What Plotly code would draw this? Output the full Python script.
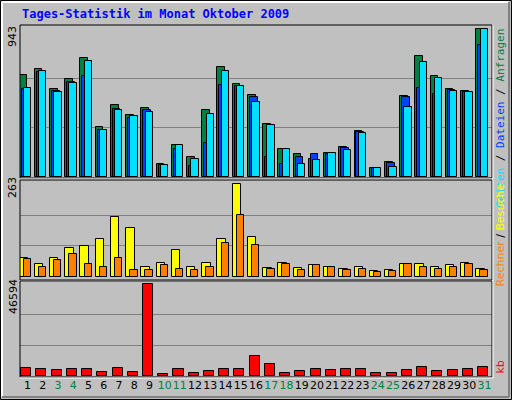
import plotly.graph_objects as go

days = list(range(1, 32))
hits = [649,687,559,623,757,316,457,393,437,79,201,124,425,700,591,521,335,175,143,111,149,188,290,53,92,514,770,642,559,548,943]
files = [559,670,546,604,644,297,431,373,425,73,175,66,213,584,578,508,124,79,124,143,143,181,284,53,85,508,565,527,553,540,841]
pages = [565,676,540,597,738,297,425,386,412,73,201,111,399,676,578,476,329,175,79,105,149,169,277,53,60,444,732,629,546,540,943]
visits = [52,35,52,81,86,106,169,138,29,38,75,27,38,106,263,112,24,38,24,32,29,21,27,15,18,35,35,27,32,38,21]
sites = [49,29,47,64,35,27,52,18,18,32,21,18,27,95,175,89,21,35,18,32,27,18,21,12,15,35,29,21,29,35,18]
kbytes = [3741,3231,2721,3231,3231,1700,3741,1700,46594,680,3231,1190,2211,3231,3231,9863,5782,1190,2211,3231,2721,3231,3231,1190,1190,2721,4251,2211,2721,3231,4251]
weekend = {3,4,10,11,17,18,24,25,31}

BG = "#C0C0C0"
L, R, T, B = 20, 20, 25, 23
W, H = 512, 400
def px(x): return (x - L) / (W - L - R)
def py(y): return (H - B - y) / (H - T - B)

fig = go.Figure()
def bar(y, color, off, wid, ax):
    fig.add_trace(go.Bar(x=days, y=y, marker=dict(color=color, line=dict(color="black", width=1)),
                         offset=off, width=wid, xaxis="x", yaxis=ax, showlegend=False, hoverinfo="skip"))
bar(hits, "#008040", -0.53, 0.5, "y")
bar(files, "#0040FF", -0.40, 0.5, "y")
bar(pages, "#00E0FF", -0.25, 0.48, "y")
bar(visits, "#FFFF00", -0.53, 0.55, "y2")
bar(sites, "#FF8000", -0.26, 0.48, "y2")
bar(kbytes, "#FF0000", -0.42, 0.66, "y3")

mh, mv, mk = max(hits), max(visits), max(kbytes)
ticktext = [f"<span style='color:#008040'>{d}</span>" if d in weekend else str(d) for d in days]
grid = dict(showgrid=True, gridcolor="#808080", gridwidth=1, showticklabels=False, zeroline=False, ticks="")
fig.update_layout(
    width=W, height=H, margin=dict(l=L, r=R, t=T, b=B), paper_bgcolor=BG, plot_bgcolor=BG,
    barmode="overlay", bargap=0,
    xaxis=dict(range=[0.5, 31.5], tickvals=days, ticktext=ticktext, showgrid=False, zeroline=False,
               anchor="y3", ticks="", tickangle=0, automargin=False,
               tickfont=dict(family="DejaVu Sans", size=11, color="black")),
    yaxis=dict(domain=[py(178), 1], range=[-8, 971], tickvals=[mh/3, 2*mh/3], **grid),
    yaxis2=dict(domain=[py(280), py(180)], range=[-9.4, 275], tickvals=[mv/3, 2*mv/3], **grid),
    yaxis3=dict(domain=[0, py(281)], range=[-663, 48280], tickvals=[mk/3, 2*mk/3], **grid),
)

shapes = []
shapes.append(dict(type="rect", xref="paper", yref="paper", x0=px(0.5), x1=px(511.5), y0=py(399.5), y1=py(0.5),
                   line=dict(color="black", width=1)))
shapes.append(dict(type="line", xref="paper", yref="paper", x0=px(2), x1=px(509), y0=py(2), y1=py(2), line=dict(color="white", width=2)))
shapes.append(dict(type="line", xref="paper", yref="paper", x0=px(2), x1=px(2), y0=py(2), y1=py(397), line=dict(color="white", width=2)))
shapes.append(dict(type="line", xref="paper", yref="paper", x0=px(509), x1=px(509), y0=py(2), y1=py(397), line=dict(color="#808080", width=2)))
shapes.append(dict(type="line", xref="paper", yref="paper", x0=px(2), x1=px(509), y0=py(397), y1=py(397), line=dict(color="#808080", width=2)))
for (t, b) in [(25, 178), (180, 280), (281, 377)]:
    shapes.append(dict(type="rect", xref="paper", yref="paper", x0=px(20), x1=px(492), y0=py(b), y1=py(t),
                       line=dict(color="black", width=1), layer="above"))
    shapes.append(dict(type="line", xref="paper", yref="paper", x0=px(20), x1=px(493), y0=py(b+1), y1=py(b+1), line=dict(color="white", width=1)))
    shapes.append(dict(type="line", xref="paper", yref="paper", x0=px(493), x1=px(493), y0=py(b+1), y1=py(t), line=dict(color="white", width=1)))
fig.update_layout(shapes=shapes)

ann = []
ann.append(dict(text="<b>Tages-Statistik im Monat Oktober 2009</b>", x=px(20), y=py(14), xref="paper", yref="paper",
                xanchor="left", yanchor="middle", showarrow=False,
                font=dict(family="DejaVu Sans Mono", size=12, color="#0000FF")))
for val, yc in [(mh, 37), (mv, 188), (mk, 297)]:
    ann.append(dict(text=str(val), x=px(13), y=py(yc), xref="paper", yref="paper", textangle=-90,
                    xanchor="center", yanchor="middle", showarrow=False,
                    font=dict(family="DejaVu Sans", size=11, color="black")))
ann.append(dict(text="<span style='color:#00E0FF'>Seiten</span> / <span style='color:#0040FF'>Dateien</span> / <span style='color:#008040'>Anfragen</span>",
                x=px(500), y=py(27), xref="paper", yref="paper", textangle=-90, xanchor="center", yanchor="top",
                showarrow=False, font=dict(family="DejaVu Sans Mono", size=11, color="black")))
ann.append(dict(text="<span style='color:#FF8000'>Rechner</span> / <span style='color:#FFFF00'>Besuche</span>",
                x=px(500), y=py(182), xref="paper", yref="paper", textangle=-90, xanchor="center", yanchor="top",
                showarrow=False, font=dict(family="DejaVu Sans", size=11, color="black")))
ann.append(dict(text="<span style='color:#FF0000'>kb</span>",
                x=px(500), y=py(376), xref="paper", yref="paper", textangle=-90, xanchor="center", yanchor="bottom",
                showarrow=False, font=dict(family="DejaVu Sans", size=11, color="black")))
fig.update_layout(annotations=ann)
fig.write_html("out.html", config={"displayModeBar": False},
               post_script="document.body.style.margin='0';document.body.style.overflow='hidden';")
